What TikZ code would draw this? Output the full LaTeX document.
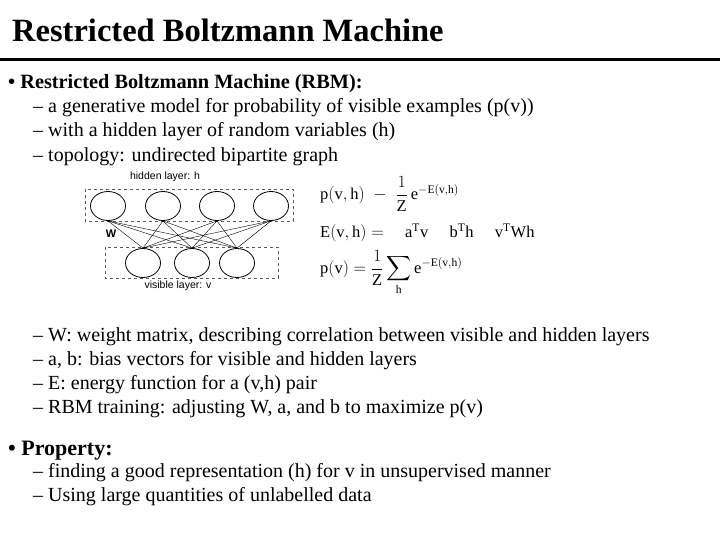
\documentclass[tikz,border=0pt]{standalone}
\usepackage{amsmath}
\usepackage{fontspec}
\setmainfont{Liberation Serif}
\newfontfamily\lsans{Liberation Sans}
\usetikzlibrary{shapes.geometric}
\begin{document}
\begin{tikzpicture}[x=1pt,y=-1pt,
 txt/.style={anchor=west,inner sep=0pt,font=\fontsize{20}{21}\selectfont},
 bul/.style={anchor=west,inner sep=0pt,font=\bfseries\fontsize{20.3}{22}\selectfont},
 neuron/.style={draw,thick,ellipse,minimum width=35pt,minimum height=29pt,inner sep=0pt},
 layerbox/.style={draw,dashed,thick,gray!70!black},
 lab/.style={inner sep=0pt,font=\lsans\fontsize{10.5}{12}\selectfont},
 eq/.style={anchor=west,inner sep=0pt,font=\fontsize{16.5}{18}\selectfont}]
\useasboundingbox (0,0) rectangle (720,540);
\node[anchor=west,inner sep=0pt,font=\bfseries\fontsize{32.5}{35}\selectfont] (title) at (12,30) {Restricted Boltzmann Machine};
\draw[line width=3pt] (0,60) -- (720,60);
\node[bul] (b1) at (8,84) {\textbullet\ Restricted Boltzmann Machine (RBM):};
\node[txt] (s1) at (33,108) {– a generative model for probability of visible examples (p(v))};
\node[txt] (s2) at (33,132) {– with a hidden layer of random variables (h)};
\node[txt] (s3) at (33,157) {– topology: undirected bipartite graph};
% diagram
\draw[layerbox] (85,189) rectangle (293,221);
\draw[layerbox] (105,247) rectangle (278,278);
\foreach \i/\x in {1/108,2/163,3/217,4/271} \node[neuron] (h\i) at (\x,206) {};
\foreach \i/\x in {1/143,2/192,3/237} \node[neuron] (v\i) at (\x,263) {};
\foreach \i in {1,...,4} \foreach \j in {1,2,3} \draw[thin] (h\i.south) -- (v\j.north);
\node[lab] (hl) at (165,177) {hidden layer: h};
\node[lab] (vl) at (178,286) {visible layer: v};
\node[lab,font=\lsans\bfseries\fontsize{11}{12}\selectfont] (w) at (111,234) {W};
\node[eq] (e1) at (320,194) {$\mathrm{p(v,h)}\;-\;\dfrac{1}{\mathrm{Z}}\,\mathrm{e}^{-\mathrm{E(v,h)}}$};
\node[eq] (e2) at (320,233) {$\mathrm{E(v,h)}=\quad\mathrm{a^Tv}\quad\;\mathrm{b^Th}\quad\;\mathrm{v^TWh}$};
\node[eq] (e3) at (320,273) {$\mathrm{p(v)}=\dfrac{1}{\mathrm{Z}}\displaystyle\sum_{\mathrm{h}}\mathrm{e}^{-\mathrm{E(v,h)}}$};
\node[txt] (s4) at (33,337) {– W: weight matrix, describing correlation between visible and hidden layers};
\node[txt] (s5) at (33,361) {– a, b: bias vectors for visible and hidden layers};
\node[txt] (s6) at (33,385) {– E: energy function for a (v,h) pair};
\node[txt] (s7) at (33,409) {– RBM training: adjusting W, a, and b to maximize p(v)};
\node[bul,font=\bfseries\fontsize{22}{24}\selectfont] (b2) at (8,451) {\textbullet\ Property:};
\node[txt] (s8) at (33,473) {– finding a good representation (h) for v in unsupervised manner};
\node[txt] (s9) at (33,497) {– Using large quantities of unlabelled data};
\end{tikzpicture}
\end{document}
